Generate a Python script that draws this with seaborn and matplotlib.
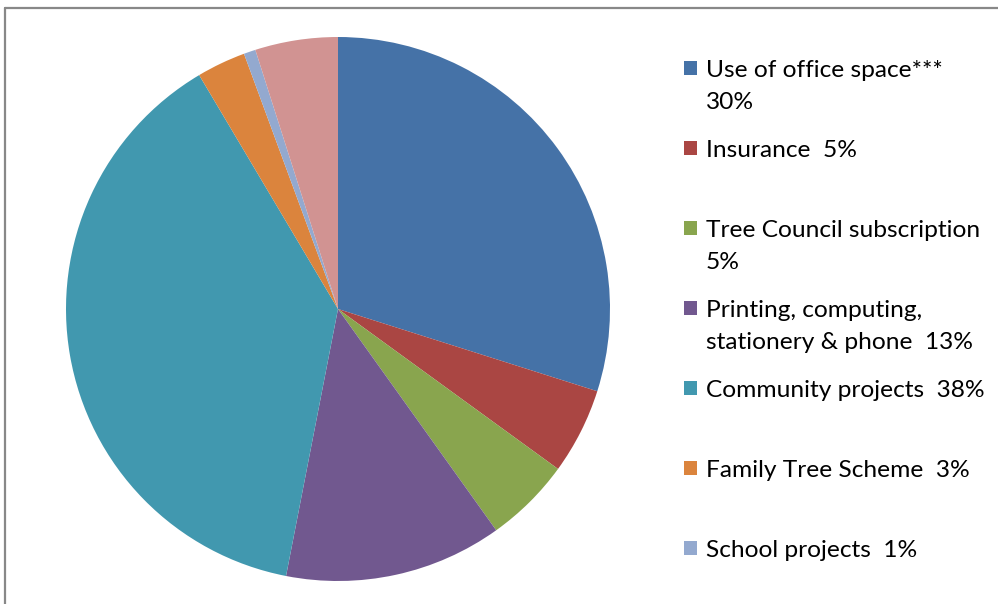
import matplotlib
matplotlib.use("Agg")
import matplotlib.pyplot as plt
from matplotlib.patches import Rectangle
from matplotlib.lines import Line2D
import seaborn as sns

# ---- data ----
categories = [
    "Use of office space***\n30%",
    "Insurance  5%",
    "Tree Council subscription\n5%",
    "Printing, computing,\nstationery & phone  13%",
    "Community projects  38%",
    "Family Tree Scheme  3%",
    "School projects  1%",
    "Other",
]
values = [29.8, 5.1, 5.1, 12.9, 38.3, 2.9, 0.7, 4.9]
legend_count = 7  # only first seven entries visible in legend
colors = ["#4572A7", "#AA4643", "#89A54E", "#71588F", "#4198AF", "#DB843D", "#93A9CF", "#D19392"]

sns.set_theme(style="white")
plt.rcParams["font.family"] = ["Lato", "DejaVu Sans"]
palette = sns.color_palette(colors)

W, H = 998, 604
fig = plt.figure(figsize=(W / 100, H / 100), dpi=100)
fig.patch.set_facecolor("white")

# chart border (top and left visible)
fig.add_artist(Line2D([4.5 / W, 4.5 / W], [0, 1 - 7.5 / H], transform=fig.transFigure,
                      color="#888888", lw=1.6))
fig.add_artist(Line2D([4.5 / W, 1], [1 - 7.5 / H, 1 - 7.5 / H], transform=fig.transFigure,
                      color="#888888", lw=1.6))

cx, cy, r = 338, 309, 272
ax = fig.add_axes([(cx - r) / W, (H - cy - r) / H, 2 * r / W, 2 * r / H])
ax.pie(values, colors=palette, startangle=90, counterclock=False, radius=1.0,
       wedgeprops=dict(linewidth=0))
ax.set_xlim(-1, 1)
ax.set_ylim(-1, 1)
ax.set_aspect("equal")
ax.axis("off")

# legend drawn manually (uneven entries on a fixed 80px pitch)
font_px = 24.5
for i in range(legend_count):
    base = 77 + 80 * i
    fig.add_artist(Rectangle((684 / W, 1 - (base - 2) / H), 13 / W, 14 / H,
                             transform=fig.transFigure, facecolor=palette[i], edgecolor="none"))
    for j, line in enumerate(categories[i].split("\n")):
        fig.text(706 / W, 1 - (base + 32 * j) / H, line, fontsize=font_px * 0.72,
                 va="baseline", ha="left", color="black")

fig.savefig("out.png", dpi=100)
